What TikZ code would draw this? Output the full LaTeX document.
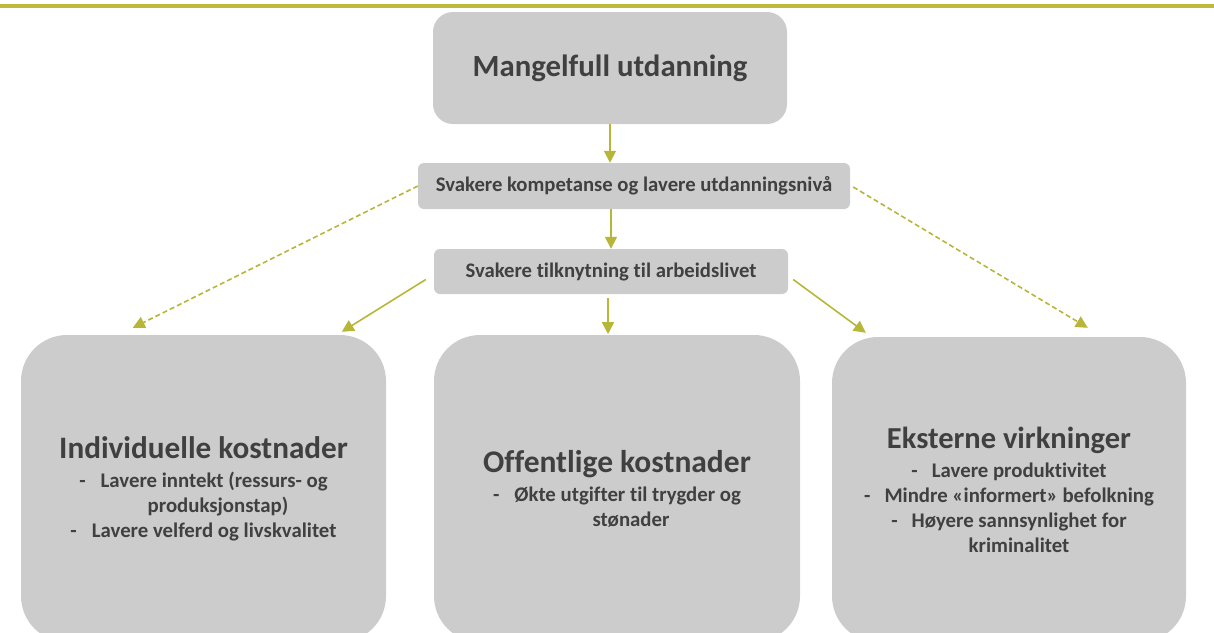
\documentclass[tikz,border=0pt]{standalone}
\usepackage{fontspec}
\setmainfont{Carlito}[Ligatures={NoCommon}]
\usetikzlibrary{arrows.meta,calc}
\definecolor{barolive}{RGB}{189,185,60}
\definecolor{arrolive}{RGB}{184,182,56}
\definecolor{boxgray}{RGB}{204,204,204}
\definecolor{txtgray}{RGB}{64,64,64}
\begin{document}
\begin{tikzpicture}[x=1pt,y=-1pt,
  box/.style={fill=boxgray, draw=none, text=txtgray, align=center, inner sep=0pt},
  bigbox/.style={box, rounded corners=46pt, font=\bfseries\fontsize{20.8}{25}\selectfont},
  arr/.style={draw=arrolive, line width=1.6pt, -{Triangle[length=12pt,width=12pt]}},
  darr/.style={arr, dash pattern=on 5pt off 3pt}
]
\useasboundingbox (0,0) rectangle (1214,632);
\clip (0,0) rectangle (1214,632);
\fill[barolive] (0,4) rectangle (1214,8);

\node[box, rounded corners=20pt, minimum width=354pt, minimum height=112pt,
      font=\bfseries\fontsize{30.8}{34}\selectfont] (T) at (610,68) {\raisebox{-5pt}{Mangelfull utdanning}};
\node[box, rounded corners=6pt, minimum width=432pt, minimum height=46pt,
      font=\bfseries\fontsize{20.7}{24}\selectfont] (B2) at (634,186) {Svakere kompetanse og lavere utdanningsnivå};
\node[box, rounded corners=6pt, minimum width=354pt, minimum height=45pt,
      font=\bfseries\fontsize{20.7}{24}\selectfont] (B3) at (611,271.5) {Svakere tilknytning til arbeidslivet};

\node[bigbox, minimum width=365pt, minimum height=307pt] (L) at (203.5,488.5)
 {{\fontsize{31.2}{36}\selectfont Individuelle kostnader}\\[4pt]
  -\hspace{15pt}Lavere inntekt (ressurs- og\\
  \hspace*{29pt}produksjonstap)\\
  -\hspace{15pt}Lavere velferd og livskvalitet};
\node[bigbox, minimum width=366pt, minimum height=307pt] (M) at (617,488.5)
 {{\fontsize{31.5}{36}\selectfont Offentlige kostnader}\\[4pt]
  -\hspace{15pt}Økte utgifter til trygder og\\
  \hspace*{28pt}stønader};
\node[bigbox, minimum width=354pt, minimum height=305pt] (R) at (1009,489.5)
 {{\fontsize{30.5}{36}\selectfont Eksterne virkninger}\\[4pt]
  -\hspace{14pt}Lavere produktivitet\\
  -\hspace{14pt}Mindre «informert» befolkning\\
  -\hspace{14pt}Høyere sannsynlighet for\\
  \hspace*{20pt}kriminalitet};

\draw[arr] (T.south) -- (T.south |- B2.north);
\draw[arr] (B2.south -| B3.north) -- (B3.north);
\draw[arr] ($(B3.south)+(-3,4)$) -- ($(B3.south)+(-3,40)$);
\draw[darr] (B2.west) -- ($(L.north west)+(112,-7)$);
\draw[arr] ($(B3.west)+(-8,8)$) -- ($(L.north west)+(321,-3)$);
\draw[arr] ($(B3.east)+(5,8)$) -- ($(R.north west)+(34,-4)$);
\draw[darr] ($(B2.east)+(3,1)$) -- ($(R.north west)+(256,-9)$);
\end{tikzpicture}
\end{document}
